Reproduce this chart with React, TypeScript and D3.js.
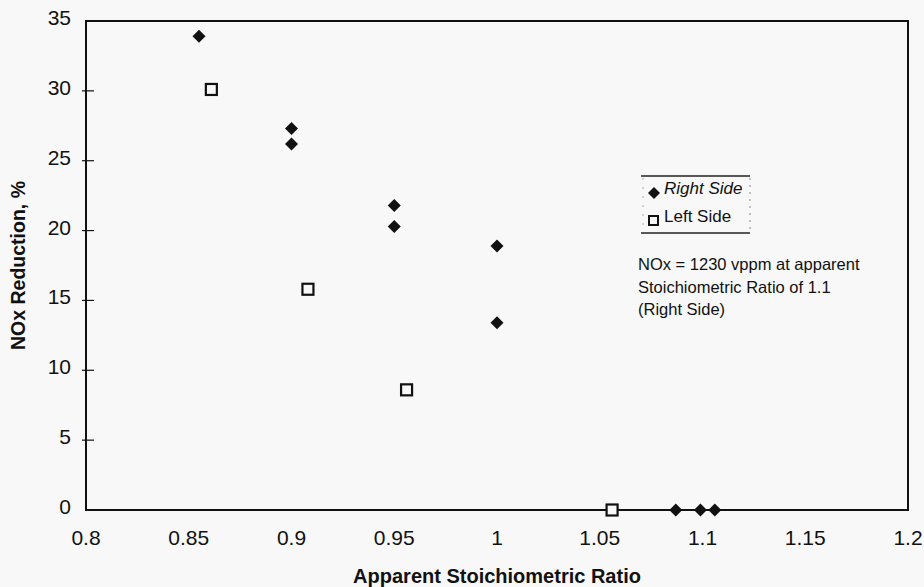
// App.tsx
import React, { useEffect, useRef } from 'react';
import * as d3 from 'd3';

// Right side (filled diamonds)
const rightX = [0.855, 0.9, 0.9, 0.95, 0.95, 1.0, 1.0, 1.087, 1.099, 1.106];
const rightY = [33.9, 27.3, 26.2, 21.8, 20.3, 18.9, 13.4, 0, 0, 0];
// Left side (open squares)
const leftX = [0.861, 0.908, 0.956, 1.056];
const leftY = [30.1, 15.8, 8.6, 0];

const xTicks = [0.8, 0.85, 0.9, 0.95, 1.0, 1.05, 1.1, 1.15, 1.2];
const yTicks = [0, 5, 10, 15, 20, 25, 30, 35];
const legendLabels = ['Right Side', 'Left Side'];
const noteLines = ['NOx = 1230 vppm at apparent', 'Stoichiometric Ratio of 1.1', '(Right Side)'];

const App = () => {
    const svgRef = useRef<SVGSVGElement>(null);

    useEffect(() => {
        const svg = d3.select(svgRef.current);
        svg.selectAll('*').remove();

        const width = 924;
        const height = 587;
        const margin = { top: 21, right: 16, bottom: 77, left: 86 };
        const font = 'Liberation Sans, Arial, sans-serif';

        svg.append('rect').attr('width', width).attr('height', height).attr('fill', '#f7f8f7');

        const x = d3.scaleLinear().domain([0.8, 1.2]).range([margin.left, width - margin.right]);
        const y = d3.scaleLinear().domain([0, 35]).range([height - margin.bottom, margin.top]);

        // plot frame
        svg.append('rect')
            .attr('x', x(0.8))
            .attr('y', y(35))
            .attr('width', x(1.2) - x(0.8))
            .attr('height', y(0) - y(35))
            .attr('fill', 'none')
            .attr('stroke', '#111')
            .attr('stroke-width', 2);

        // y ticks (cross the axis)
        svg.append('g').selectAll('line')
            .data(yTicks.slice(1, -1))
            .join('line')
            .attr('x1', x(0.8) - 4)
            .attr('x2', x(0.8) + 8)
            .attr('y1', d => y(d))
            .attr('y2', d => y(d))
            .attr('stroke', '#111')
            .attr('stroke-width', 1.2);

        svg.append('g').selectAll('text')
            .data(yTicks)
            .join('text')
            .attr('x', 71)
            .attr('y', d => y(d) + 4)
            .attr('text-anchor', 'end')
            .attr('font-family', font)
            .attr('font-size', 21)
            .attr('fill', '#111')
            .text(d => String(d));

        svg.append('g').selectAll('text')
            .data(xTicks)
            .join('text')
            .attr('x', d => x(d))
            .attr('y', 545)
            .attr('text-anchor', 'middle')
            .attr('font-family', font)
            .attr('font-size', 21)
            .attr('fill', '#111')
            .text(d => d3.format('~g')(d));

        // axis titles
        svg.append('text')
            .attr('x', (x(0.8) + x(1.2)) / 2)
            .attr('y', 583)
            .attr('text-anchor', 'middle')
            .attr('font-family', font)
            .attr('font-size', 20)
            .attr('font-weight', 'bold')
            .attr('fill', '#111')
            .text('Apparent Stoichiometric Ratio');

        svg.append('text')
            .attr('transform', `translate(25, ${(y(0) + y(35)) / 2}) rotate(-90)`)
            .attr('text-anchor', 'middle')
            .attr('font-family', font)
            .attr('font-size', 19.5)
            .attr('font-weight', 'bold')
            .attr('fill', '#111')
            .text('NOx Reduction, %');

        const diamond = (cx: number, cy: number, r: number) =>
            `M${cx},${cy - r}L${cx + r},${cy}L${cx},${cy + r}L${cx - r},${cy}Z`;

        // points
        svg.append('g').selectAll('path')
            .data(d3.zip(rightX, rightY))
            .join('path')
            .attr('d', d => diamond(x(d[0]), y(d[1]), 6.5))
            .attr('fill', '#111');

        svg.append('g').selectAll('rect')
            .data(d3.zip(leftX, leftY))
            .join('rect')
            .attr('x', d => x(d[0]) - 5.5)
            .attr('y', d => y(d[1]) - 5.5)
            .attr('width', 11)
            .attr('height', 11)
            .attr('fill', '#f7f8f7')
            .attr('stroke', '#111')
            .attr('stroke-width', 2.2);

        // legend
        const lg = svg.append('g');
        lg.append('line').attr('x1', 641).attr('x2', 750).attr('y1', 176).attr('y2', 176)
            .attr('stroke', '#222').attr('stroke-width', 1.3);
        lg.append('line').attr('x1', 641).attr('x2', 750).attr('y1', 233).attr('y2', 233)
            .attr('stroke', '#222').attr('stroke-width', 1.3);
        lg.append('line').attr('x1', 750).attr('x2', 750).attr('y1', 178).attr('y2', 231)
            .attr('stroke', '#888').attr('stroke-width', 1).attr('stroke-dasharray', '2,5');
        lg.append('line').attr('x1', 643).attr('x2', 643).attr('y1', 178).attr('y2', 231)
            .attr('stroke', '#aaa').attr('stroke-width', 1).attr('stroke-dasharray', '2,7');
        lg.append('path').attr('d', diamond(654, 193, 6)).attr('fill', '#111');
        lg.append('rect').attr('x', 649).attr('y', 216).attr('width', 9).attr('height', 9)
            .attr('fill', 'none').attr('stroke', '#111').attr('stroke-width', 2);
        lg.selectAll('text.lab')
            .data(legendLabels)
            .join('text')
            .attr('class', 'lab')
            .attr('x', 664)
            .attr('y', (d, i) => 194 + i * 28)
            .attr('font-family', font)
            .attr('font-size', 17)
            .attr('font-style', (d, i) => (i === 0 ? 'italic' : 'normal'))
            .attr('fill', '#111')
            .text(d => d);

        // note
        svg.append('g').selectAll('text')
            .data(noteLines)
            .join('text')
            .attr('x', 638)
            .attr('y', (d, i) => 270 + i * 22.5)
            .attr('font-family', font)
            .attr('font-size', 16.5)
            .attr('fill', '#111')
            .text(d => d);
    }, []);

    return (
        <svg
            ref={svgRef}
            width={924}
            height={587}
            style={{ position: 'absolute', left: 0, top: 0 }}
        />
    );
};

export default App;
